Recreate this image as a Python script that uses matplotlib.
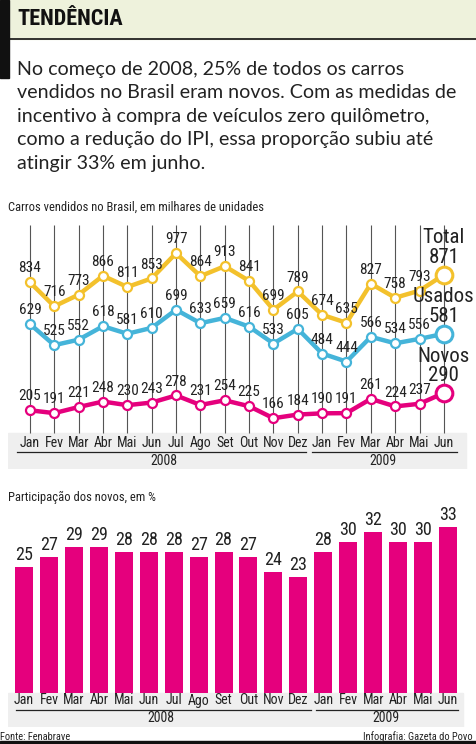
import matplotlib
matplotlib.use("Agg")
import matplotlib.pyplot as plt
from matplotlib.patches import Rectangle
from matplotlib.lines import Line2D

# dados
meses = ["Jan", "Fev", "Mar", "Abr", "Mai", "Jun", "Jul", "Ago", "Set", "Out", "Nov", "Dez",
         "Jan", "Fev", "Mar", "Abr", "Mai", "Jun"]
total = [834, 716, 773, 866, 811, 853, 977, 864, 913, 841, 699, 789, 674, 635, 827, 758, 793, 871]
usados = [629, 525, 552, 618, 581, 610, 699, 633, 659, 616, 533, 605, 484, 444, 566, 534, 556, 581]
novos = [205, 191, 221, 248, 230, 243, 278, 231, 254, 225, 166, 184, 190, 191, 261, 224, 237, 290]
participacao = [25, 27, 29, 29, 28, 28, 28, 27, 28, 27, 24, 23, 28, 30, 32, 30, 30, 33]
anos = ["2008", "2009"]

titulo = "TENDÊNCIA"
texto = ["No começo de 2008, 25% de todos os carros",
         "vendidos no Brasil eram novos. Com as medidas de",
         "incentivo à compra de veículos zero quilômetro,",
         "como a redução do IPI, essa proporção subiu até",
         "atingir 33% em junho."]

AMARELO = "#f3c12c"
AZUL = "#45b4d9"
ROSA = "#e5007d"
CINZA = "#efefef"
TXT = "#222222"
COND = ["Roboto Condensed", "Liberation Sans Narrow", "DejaVu Sans"]
CORPO = ["Lato", "DejaVu Sans"]
ST = "condensed"

W, H = 476, 744
fig = plt.figure(figsize=(W / 100, H / 100), dpi=100)


def fx(p):
    return p / W


def fy(p):
    return 1 - p / H


# cabeçalho
fig.patches.append(Rectangle((0, fy(39)), 1, 39 / H, transform=fig.transFigure,
                             color="#eef2dc", zorder=0))
fig.patches.append(Rectangle((0, fy(78)), 9 / W, 78 / H, transform=fig.transFigure,
                             color="#111111", zorder=1))
fig.lines.append(Line2D([fx(9), 1], [fy(39), fy(39)], transform=fig.transFigure,
                        color="#111111", lw=1.2))
fig.text(fx(17), fy(19), titulo, family=COND, stretch=ST, fontweight="bold", fontsize=16,
         va="center", ha="left", color="#111111")
for i, linha in enumerate(texto):
    fig.text(fx(17), fy(69 + i * 23.6), linha, family=CORPO, fontsize=14.1,
             va="center", ha="left", color="#222222")

# ---------- gráfico de linhas ----------
topo, base = 215, 469
ax = fig.add_axes([fx(8), fy(base), (468 - 8) / W, (base - topo) / H])
esc = 0.2035
y0 = 452
ax.set_ylim((y0 - base) / esc, (y0 - topo) / esc)
ax.set_xlim(-0.9, 17.99)
ax.axis("off")
x = list(range(len(meses)))

v_faixa = (y0 - 433) / esc
v_grade = (y0 - 225) / esc
ax.axhspan(ax.get_ylim()[0], v_faixa, xmin=0, xmax=0.995, color=CINZA, zorder=0)
ax.vlines(x, v_faixa, v_grade, color="#555555", lw=0.8, zorder=1)

for serie, cor, nome in [(total, AMARELO, "Total"), (usados, AZUL, "Usados"), (novos, ROSA, "Novos")]:
    ax.plot(x[:-1], serie[:-1], color=cor, lw=3.2, marker="o", ms=6.5, mfc="white",
            mec=cor, mew=1.6, zorder=3, solid_joinstyle="round")
    ax.plot(x[-2:], serie[-2:], color=cor, lw=3.2, zorder=2)
    ax.plot(x[-1], serie[-1], marker="o", ms=12, mfc="white", mec=cor, mew=2.2, zorder=4)
    for xi, v in zip(x[:-1], serie[:-1]):
        ax.annotate(str(v), (xi, v), xytext=(0, 10), textcoords="offset points",
                    ha="center", va="center", family=COND, stretch=ST,
                    fontsize=11, color=TXT, zorder=5)
    # rótulo final: nome e valor
    ax.annotate(str(serie[-1]), (x[-1], serie[-1]), xytext=(0, 12.5),
                textcoords="offset points", ha="center", va="center", family=COND,
                stretch=ST, fontsize=15, color=TXT, zorder=5)
    ax.annotate(nome, (x[-1], serie[-1]), xytext=(0, 26.5),
                textcoords="offset points", ha="center", va="center", family=COND,
                stretch=ST, fontsize=15, color=TXT, zorder=5)

tr = ax.get_xaxis_transform()


def af(p):
    return (base - p) / (base - topo)


for xi, m in zip(x, meses):
    ax.text(xi, af(443), m, transform=tr, ha="center", va="center", family=COND,
            stretch=ST, fontsize=10, color=TXT)
ax.plot([-0.55, 11.35], [af(452)] * 2, transform=tr, color=TXT, lw=0.9, clip_on=False)
ax.plot([11.6, 17.55], [af(452)] * 2, transform=tr, color=TXT, lw=0.9, clip_on=False)
ax.text(5.5, af(461), anos[0], transform=tr, ha="center", va="center", family=COND,
        stretch=ST, fontsize=10, color=TXT)
ax.text(14.5, af(461), anos[1], transform=tr, ha="center", va="center", family=COND,
        stretch=ST, fontsize=10, color=TXT)
fig.text(fx(8), fy(207), "Carros vendidos no Brasil, em milhares de unidades", family=COND,
         stretch=ST, fontsize=9, va="center", ha="left", color=TXT)

# ---------- gráfico de barras ----------
topo2, base2 = 505, 727
bx = fig.add_axes([fx(8), fy(base2), (468 - 8) / W, (base2 - topo2) / H])
esc2 = 5.03
yb = 692.7
bx.set_ylim((yb - base2) / esc2, (yb - topo2) / esc2)
bx.set_xlim(-0.64, 17.8)
bx.axis("off")
bx.axhspan(bx.get_ylim()[0], 0, xmin=0, xmax=0.99, color=CINZA, zorder=0)
bx.bar(x, participacao, width=0.72, color=ROSA, zorder=2)
for xi, v in zip(x, participacao):
    bx.annotate(str(v), (xi, v), xytext=(0, 8.5), textcoords="offset points",
                ha="center", va="center", family=COND, stretch=ST,
                fontsize=13, color=TXT)

tr2 = bx.get_xaxis_transform()


def bf(p):
    return (base2 - p) / (base2 - topo2)


for xi, m in zip(x, meses):
    bx.text(xi, bf(700.5), m, transform=tr2, ha="center", va="center", family=COND,
            stretch=ST, fontsize=10, color=TXT)
bx.plot([-0.3, 11.5], [bf(709.5)] * 2, transform=tr2, color=TXT, lw=0.9, clip_on=False)
bx.plot([11.7, 17.4], [bf(709.5)] * 2, transform=tr2, color=TXT, lw=0.9, clip_on=False)
bx.text(5.5, bf(718), anos[0], transform=tr2, ha="center", va="center", family=COND,
        stretch=ST, fontsize=10, color=TXT)
bx.text(14.5, bf(718), anos[1], transform=tr2, ha="center", va="center", family=COND,
        stretch=ST, fontsize=10, color=TXT)
fig.text(fx(8), fy(497), "Participação dos novos, em %", family=COND, stretch=ST,
         fontsize=9, va="center", ha="left", color=TXT)

# rodapé
fig.text(fx(0), fy(736.5), "Fonte: Fenabrave", family=COND, stretch=ST, fontsize=7.5,
         va="center", ha="left", color=TXT)
fig.text(fx(473), fy(736.5), "Infografia: Gazeta do Povo", family=COND, stretch=ST,
         fontsize=7.5, va="center", ha="right", color=TXT)
fig.patches.append(Rectangle((0, 0), 1, 3 / H, transform=fig.transFigure,
                             color="#111111"))

fig.savefig("out.png", dpi=100)
